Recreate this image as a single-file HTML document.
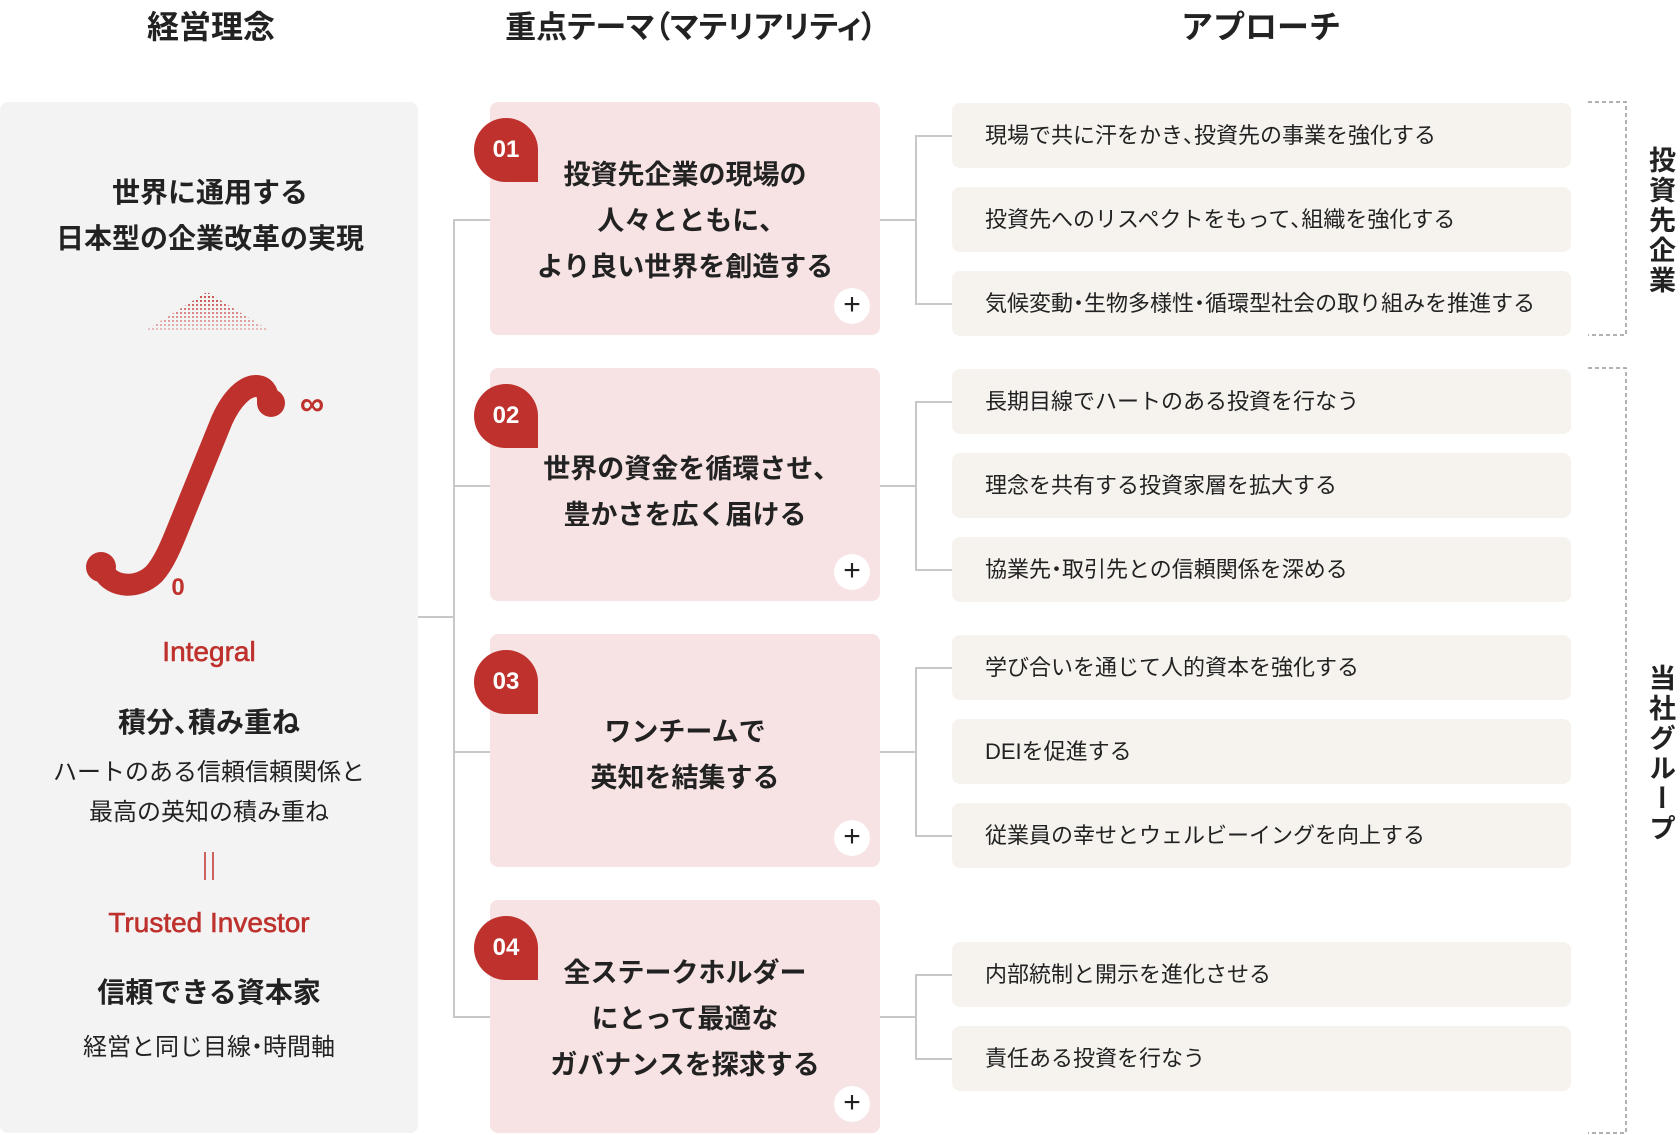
<!DOCTYPE html>
<html><head><meta charset="utf-8"><style>
*{margin:0;padding:0;box-sizing:border-box}
body{width:1680px;height:1135px;background:#fff;position:relative;overflow:hidden;font-family:"Liberation Sans","Noto Sans CJK JP",sans-serif;color:#222}
.p{font-feature-settings:"palt"}
.a{position:absolute}
.h{font-size:32px;font-weight:bold;top:2px;text-align:center;white-space:nowrap}
.c{text-align:center;white-space:nowrap;transform:translateX(-50%)}
.tb{position:absolute;left:490px;width:390px;height:233px;background:#f7e3e3;border-radius:8px}
.tb .t{position:absolute;left:0;right:0;text-align:center;font-size:27px;font-weight:bold;line-height:46px}
.bd{position:absolute;left:-16px;top:16px;width:64px;height:64px;background:#be312d;border-radius:32px 32px 0 32px;color:#fff;font-size:24px;font-weight:bold;text-align:center;line-height:64px}
.pl{position:absolute;left:344px;top:186px;width:36px;height:36px;border-radius:50%;background:#fff;text-align:center;line-height:34px;font-size:30px;color:#222}
.ap{position:absolute;left:952px;width:619px;height:65px;background:#f6f3ef;border-radius:8px;font-size:22px;line-height:65px;padding-left:33px;white-space:nowrap}
.ln{position:absolute;background:#c8c8c8}
.vt{position:absolute;writing-mode:vertical-rl;font-size:27px;font-weight:bold;letter-spacing:3px}
</style></head><body>
<div class="a h" style="left:111px;width:200px">経営理念</div>
<div class="a h p" style="left:441px;width:500px;font-size:31px">重点テーマ（マテリアリティ）</div>
<div class="a h" style="left:1111px;width:300px">アプローチ</div>

<div class="a" style="left:0;top:102px;width:418px;height:1031px;background:#f3f3f3;border-radius:8px"></div>
<div class="a c" style="left:210px;top:170px;font-size:28px;font-weight:bold;line-height:46px">世界に通用する<br>日本型の企業改革の実現</div>
<svg class="a" style="left:0;top:0" width="418" height="1135">
<defs><pattern id="dp" width="4" height="4" patternUnits="userSpaceOnUse"><rect width="2" height="2" fill="#c53a36"/></pattern>
<linearGradient id="fg" x1="0" y1="0" x2="0" y2="1"><stop offset="0" stop-color="#fff" stop-opacity="1"/><stop offset="1" stop-color="#fff" stop-opacity="0.2"/></linearGradient>
<mask id="mk"><rect x="0" y="290" width="418" height="45" fill="url(#fg)"/></mask></defs>
<polygon points="207,292 272,332 143,332" fill="url(#dp)" mask="url(#mk)"/>
<path d="M104,572 C112,587 137,590 154,574 C164,563 171,546 179,526 L222,420 C232,398 245,386 256,386 C264,386 268,392 268,400" fill="none" stroke="#be312d" stroke-width="22" stroke-linecap="round"/>
<circle cx="271" cy="403" r="14" fill="#be312d"/>
<circle cx="101" cy="567" r="15" fill="#be312d"/>
<text x="312" y="415" font-size="34" font-weight="bold" fill="#be312d" text-anchor="middle" font-family="Liberation Sans, DejaVu Sans, sans-serif">∞</text>
<text x="178" y="595" font-size="24" font-weight="bold" fill="#be312d" text-anchor="middle" font-family="Liberation Sans, sans-serif">0</text>
<line x1="205" y1="852" x2="205" y2="880" stroke="#be312d" stroke-width="1.5"/>
<line x1="213" y1="852" x2="213" y2="880" stroke="#be312d" stroke-width="1.5"/>
</svg>
<div class="a c" style="left:209px;top:636px;font-size:28px;color:#be312d;-webkit-text-stroke:0.6px #be312d">Integral</div>
<div class="a c" style="left:209px;top:701px;font-size:28px;font-weight:bold">積分<span class="p">、</span>積み重ね</div>
<div class="a c" style="left:209px;top:753px;font-size:24px;line-height:40px">ハートのある信頼信頼関係と<br>最高の英知の積み重ね</div>
<div class="a c" style="left:209px;top:907px;font-size:28px;color:#be312d;-webkit-text-stroke:0.6px #be312d">Trusted Investor</div>
<div class="a c" style="left:209px;top:971px;font-size:28px;font-weight:bold">信頼できる資本家</div>
<div class="a c" style="left:209px;top:1027px;font-size:24px">経営と同じ目線<span class="p">・</span>時間軸</div>

<div class="ln" style="left:418px;top:616px;width:37px;height:2px"></div>
<div class="ln" style="left:453px;top:219px;width:2px;height:799px"></div>
<div class="ln" style="left:453px;top:219px;width:37px;height:2px"></div>
<div class="ln" style="left:453px;top:485px;width:37px;height:2px"></div>
<div class="ln" style="left:453px;top:751px;width:37px;height:2px"></div>
<div class="ln" style="left:453px;top:1016px;width:37px;height:2px"></div>

<div class="tb" style="top:102px"><div class="bd">01</div><div class="t" style="top:50px">投資先企業の現場の<br>人々とともに<span class="p">、</span><br>より良い世界を創造する</div><div class="pl">+</div></div>
<div class="tb" style="top:368px"><div class="bd">02</div><div class="t" style="top:78px">世界の資金を循環させ<span class="p">、</span><br>豊かさを広く届ける</div><div class="pl">+</div></div>
<div class="tb" style="top:634px"><div class="bd">03</div><div class="t" style="top:75px">ワンチームで<br>英知を結集する</div><div class="pl">+</div></div>
<div class="tb" style="top:900px"><div class="bd">04</div><div class="t" style="top:50px">全ステークホルダー<br>にとって最適な<br>ガバナンスを探求する</div><div class="pl">+</div></div>

<div class="ln" style="left:880px;top:219px;width:36px;height:2px"></div>
<div class="ln" style="left:915px;top:135px;width:2px;height:169px"></div>
<div class="ln" style="left:915px;top:135px;width:37px;height:2px"></div>
<div class="ln" style="left:915px;top:303px;width:37px;height:2px"></div>

<div class="ln" style="left:880px;top:485px;width:36px;height:2px"></div>
<div class="ln" style="left:915px;top:401px;width:2px;height:169px"></div>
<div class="ln" style="left:915px;top:401px;width:37px;height:2px"></div>
<div class="ln" style="left:915px;top:569px;width:37px;height:2px"></div>

<div class="ln" style="left:880px;top:751px;width:36px;height:2px"></div>
<div class="ln" style="left:915px;top:667px;width:2px;height:169px"></div>
<div class="ln" style="left:915px;top:667px;width:37px;height:2px"></div>
<div class="ln" style="left:915px;top:835px;width:37px;height:2px"></div>

<div class="ln" style="left:880px;top:1016px;width:36px;height:2px"></div>
<div class="ln" style="left:915px;top:974px;width:2px;height:85px"></div>
<div class="ln" style="left:915px;top:974px;width:37px;height:2px"></div>
<div class="ln" style="left:915px;top:1058px;width:37px;height:2px"></div>

<div class="ap" style="top:103px">現場で共に汗をかき<span class="p">、</span>投資先の事業を強化する</div>
<div class="ap" style="top:187px">投資先へのリスペクトをもって<span class="p">、</span>組織を強化する</div>
<div class="ap" style="top:271px">気候変動<span class="p">・</span>生物多様性<span class="p">・</span>循環型社会の取り組みを推進する</div>
<div class="ap" style="top:369px">長期目線でハートのある投資を行なう</div>
<div class="ap" style="top:453px">理念を共有する投資家層を拡大する</div>
<div class="ap" style="top:537px">協業先<span class="p">・</span>取引先との信頼関係を深める</div>
<div class="ap" style="top:635px">学び合いを通じて人的資本を強化する</div>
<div class="ap" style="top:719px">DEIを促進する</div>
<div class="ap" style="top:803px">従業員の幸せとウェルビーイングを向上する</div>
<div class="ap" style="top:942px">内部統制と開示を進化させる</div>
<div class="ap" style="top:1026px">責任ある投資を行なう</div>

<svg class="a" style="left:1580px;top:0" width="60" height="1135">
<path d="M8,102 H46 V335 H8" fill="none" stroke="#999" stroke-width="1.5" stroke-dasharray="4,3"/>
<path d="M8,368 H46 V1133 H8" fill="none" stroke="#999" stroke-width="1.5" stroke-dasharray="4,3"/>
</svg>
<div class="vt" style="top:146px;left:1641px">投資先企業</div>
<div class="vt" style="top:664px;left:1641px">当社グループ</div>
</body></html>
